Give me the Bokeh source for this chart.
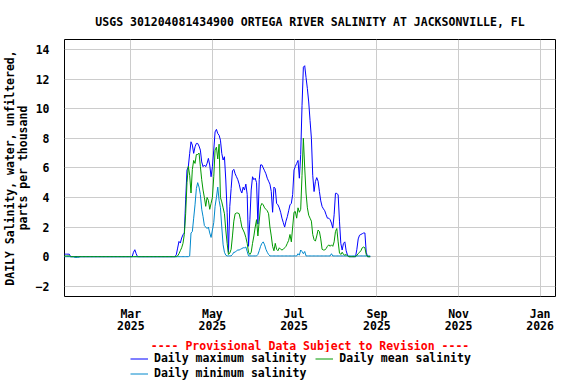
from datetime import datetime, timedelta
from bokeh.plotting import figure
from bokeh.layouts import column
from bokeh.models import Range1d, FixedTicker, Legend, LegendItem, Title
from bokeh.embed import file_html
from bokeh.resources import INLINE

# ---------------- data ----------------
start_date = datetime(2025, 1, 10)

daily_max = [
    0.17, 0.17, 0.17, 0.17, 0.17, 0, 0, 0, 0, 0,
    0, 0, 0, 0, 0, 0, 0, 0, 0, 0,
    0, 0, 0, 0, 0, 0, 0, 0, 0, 0,
    0, 0, 0, 0, 0, 0, 0, 0, 0, 0,
    0, 0, 0, 0, 0, 0, 0, 0, 0, 0,
    0, 0, 0.3, 0.47, 0.2, 0, 0, 0, 0, 0,
    0, 0, 0, 0, 0, 0, 0, 0, 0, 0,
    0, 0, 0, 0, 0, 0, 0, 0, 0, 0,
    0, 0, 0, 0, 0.13, 0.58, 1.03, 0.92, 1.26, 1.48,
    1.6, 3.84, 5.85, 6.08, 6.98, 7.76, 7.54, 6.98, 7.42, 7.65,
    7.65, 7.47, 7.2, 6.4, 6.08, 6.19, 6.08, 6.3, 6.64, 6.19,
    5.4, 6.08, 7.2, 8.43, 8.6, 8.32, 8.2, 7.87, 6.98, 6.53,
    6.75, 5.18, 3.0, 0.3, 3.4, 4.6, 5.8, 5.9, 5.6, 5.4,
    5.2, 4.9, 4.5, 4.3, 4.7, 4.5, 4.9, 4.2, 0.7, 2.5,
    4.5, 5.4, 5.2, 5.3, 5.0, 2.2, 5.2, 6.2, 6.2, 6.0,
    5.8, 5.6, 5.3, 5.1, 4.9, 4.4, 3.0, 4.7, 4.6, 3.6,
    3.5, 3.3, 3.0, 2.6, 2.3, 2.0, 2.4, 2.7, 3.1, 3.5,
    3.6, 4.2, 5.85, 6.1, 6.3, 6.5, 5.3, 6.9, 10.2, 12.8,
    12.9, 12.1, 11.35, 10.45, 9.2, 8.0, 5.5, 4.4, 5.07, 5.34,
    5.1, 4.4, 3.77, 3.39, 3.23, 3.1, 2.83, 2.6, 2.6, 2.5,
    2.27, 1.93, 2.83, 4.28, 4.28, 4.17, 2.4, 0.9, 0.45, 0.9,
    1.0, 0.4, 0.1, 0, 0, 0, 0, 0, 0, 0.5,
    1.2, 1.45, 1.5, 1.55, 1.6, 1.6, 0.3, 0, 0, 0,
]

daily_mean = [
    0.05, 0.05, 0.05, 0.05, 0.05, 0, 0, 0, 0, 0,
    0, 0, 0, 0, 0, 0, 0, 0, 0, 0,
    0, 0, 0, 0, 0, 0, 0, 0, 0, 0,
    0, 0, 0, 0, 0, 0, 0, 0, 0, 0,
    0, 0, 0, 0, 0, 0, 0, 0, 0, 0,
    0, 0, 0, 0, 0, 0, 0, 0, 0, 0,
    0, 0, 0, 0, 0, 0, 0, 0, 0, 0,
    0, 0, 0, 0, 0, 0, 0, 0, 0, 0,
    0, 0, 0, 0, 0, 0.05, 0.2, 0.4, 0.6, 0.9,
    1.5, 2.9, 5.0, 6.1, 5.5, 4.3, 5.9, 6.5, 6.3, 6.9,
    6.9, 7.0, 6.1, 5.2, 4.5, 4.0, 3.4, 4.0, 3.8, 3.2,
    3.6, 4.0, 5.4, 7.2, 7.4, 6.6, 7.6, 4.0, 3.7, 3.3,
    2.9, 1.8, 0.9, 0.15, 0.25, 0.5, 1.4, 2.4, 2.9, 2.95,
    2.95, 2.9, 2.5, 2.0, 1.8, 1.6, 1.3, 0.9, 0.3, 0.15,
    0.3, 0.9, 1.4, 2.0, 2.5, 1.4, 2.4, 3.4, 3.6, 3.5,
    3.3, 3.2, 3.1, 2.9, 2.0, 1.4, 0.7, 0.4, 0.9, 0.5,
    0.4, 0.6, 0.5, 0.45, 0.5, 0.6, 0.7, 0.9, 1.1, 1.5,
    1.0, 2.0, 3.0, 3.05, 2.6, 3.3, 3.0, 3.2, 5.5, 8.0,
    6.0, 4.3, 3.3, 2.8, 2.6, 2.4, 1.5, 1.15, 1.05, 1.4,
    1.8, 1.7, 1.2, 0.5, 0.45, 0.45, 0.55, 0.7, 0.8, 0.7,
    0.8, 0.7, 1.0, 1.7, 1.9, 1.0, 0.25, 0.15, 0.3, 0.15,
    0.1, 0.15, 0.05, 0, 0, 0, 0, 0, 0, 0.1,
    0.2, 0.3, 0.4, 0.6, 0.65, 0.6, 0.15, 0, 0, 0,
]

daily_min = [
    0, 0, 0, 0, 0, 0, 0, 0, -0.05, -0.05,
    -0.05, -0.05, 0, 0, 0, 0, 0, 0, 0, 0,
    0, 0, 0, 0, 0, 0, 0, 0, 0, 0,
    0, 0, 0, 0, 0, 0, 0, 0, 0, 0,
    0, 0, 0, 0, 0, 0, 0, 0, 0, 0,
    0, 0, 0, 0, 0, 0, 0, 0, 0, 0,
    0, 0, 0, 0, 0, 0, 0, 0, 0, 0,
    0, 0, 0, 0, 0, 0, 0, 0, 0, 0,
    0, 0, 0, 0, 0, 0, 0, 0, 0, 0,
    0, 0, 0, 0, 0.05, 1.6, 1.7, 2.6, 3.5, 4.6,
    5.0, 4.7, 4.2, 3.2, 2.7, 2.1, 2.0, 1.9, 2.0, 1.6,
    1.3, 1.8, 2.3, 3.4, 4.0, 4.7, 3.8, 3.3, 2.0, 0.8,
    0.3, 0.1, 0.05, 0.05, 0.05, 0.05, 0.15, 0.3, 0.3, 0.4,
    0.45, 0.45, 0.5, 0.55, 0.6, 0.6, 0.65, 0.35, 0.05, 0.05,
    0.05, 0.05, 0.05, 0.05, 0.05, 0.15, 0.4, 0.7, 0.9, 1.0,
    0.8, 0.5, 0.3, 0.15, 0.05, 0.05, 0.05, 0.05, 0.05, 0.05,
    0.05, 0.05, 0.05, 0.05, 0.05, 0.05, 0.05, 0.05, 0.05, 0.05,
    0.05, 0.05, 0.05, 0.05, 0.05, 0.2, 0.1, 0.45, 0.35, 0.2,
    0.35, 0.05, 0.05, 0.05, 0.05, 0.05, 0.05, 0.05, 0.05, 0.05,
    0.05, 0.05, 0.05, 0.05, 0.05, 0.05, 0.05, 0.05, 0.05, 0.05,
    0.2, 0.05, 0.05, 0.05, 0.05, 0.05, 0.05, 0.05, 0.05, 0.05,
    0.05, 0.05, 0.05, 0.05, 0.05, 0.05, 0.05, 0.05, 0.05, 0.05,
    0.05, 0.05, 0.05, 0.05, 0.05, 0.05, 0.05, 0.05, 0.05, 0.05,
]

tick_dates = [datetime(2025, 3, 1), datetime(2025, 5, 1), datetime(2025, 7, 1),
              datetime(2025, 9, 1), datetime(2025, 11, 1), datetime(2026, 1, 1)]
tick_labels = ["Mar\n2025", "May\n2025", "Jul\n2025", "Sep\n2025", "Nov\n2025", "Jan\n2026"]
y_ticks = [-2, 0, 2, 4, 6, 8, 10, 12, 14]

title_text = "USGS 301204081434900 ORTEGA RIVER SALINITY AT JACKSONVILLE, FL"
provisional_text = "---- Provisional Data Subject to Revision ----"
y_label = "DAILY Salinity, water, unfiltered,\nparts per thousand"
series_labels = ["Daily maximum salinity", "Daily mean salinity", "Daily minimum salinity"]
series_colors = ["#0000ff", "#009900", "#0088cc"]

# ---------------- plot ----------------
FONT = "DejaVu Sans Mono"
FS = "11.5px"

dates = [start_date + timedelta(days=i) for i in range(len(daily_max))]
epoch = datetime(1970, 1, 1)
tick_ms = [int((d - epoch).total_seconds() * 1000) for d in tick_dates]

x_rng = Range1d(datetime(2025, 1, 10, 10), datetime(2026, 1, 12, 12))

p = figure(width=576, height=352, x_axis_type="datetime",
           x_range=x_rng, y_range=Range1d(-2.69, 14.67),
           output_backend="svg", toolbar_location=None)

p.min_border_left = 64
p.min_border_right = 21
p.min_border_top = 39
p.min_border_bottom = 55
p.background_fill_color = "white"
p.border_fill_color = "white"
p.outline_line_color = "black"
p.outline_line_width = 1
p.outline_line_alpha = 1

p.title.text = title_text
p.title.align = "center"
p.title.text_font = FONT
p.title.text_font_size = FS
p.title.text_font_style = "bold"
p.title.text_color = "black"
p.title.standoff = 22

r_max = p.line(dates, daily_max, line_color=series_colors[0], line_width=1)
r_min = p.line(dates, daily_min, line_color=series_colors[2], line_width=1)
r_mean = p.line(dates, daily_mean, line_color=series_colors[1], line_width=1)

for ax in (p.xaxis[0], p.yaxis[0]):
    ax.axis_line_color = None
    ax.major_tick_line_color = None
    ax.minor_tick_line_color = None
    ax.major_label_text_font = FONT
    ax.major_label_text_font_size = FS
    ax.major_label_text_font_style = "bold"
    ax.major_label_text_color = "black"

p.xaxis.ticker = FixedTicker(ticks=tick_ms)
p.xaxis.major_label_overrides = dict(zip(tick_ms, tick_labels))
p.xaxis.major_label_standoff = 4
p.xaxis.major_label_text_line_height = 0.9

p.yaxis.ticker = FixedTicker(ticks=y_ticks)
p.yaxis.major_label_standoff = 9
p.yaxis.axis_label = y_label
p.yaxis.axis_label_text_font = FONT
p.yaxis.axis_label_text_font_size = FS
p.yaxis.axis_label_text_font_style = "bold"
p.yaxis.axis_label_text_color = "black"
p.yaxis.axis_label_text_line_height = 0.9
p.yaxis.axis_label_standoff = 3

p.xgrid.ticker = FixedTicker(ticks=tick_ms)
p.ygrid.ticker = FixedTicker(ticks=y_ticks)
for g in (p.xgrid[0], p.ygrid[0]):
    g.grid_line_color = "#cccccc"
    g.grid_line_width = 1

p.add_layout(Title(text=provisional_text, align="center", text_color="red",
                   text_font=FONT, text_font_size=FS, text_font_style="bold",
                   standoff=0), "below")

# ---------------- legend strip ----------------
# same series drawn again into a strip whose y-range shows none of them,
# so the legend can sit below the plot without being clipped
lg = figure(width=576, height=32, x_range=x_rng, y_range=Range1d(-100, -99),
            x_axis_location=None, y_axis_location=None,
            output_backend="svg", toolbar_location=None,
            min_border=0, min_border_left=0, min_border_right=0,
            min_border_top=0, min_border_bottom=0)
lg.outline_line_color = None
lg.grid.visible = False
lg.background_fill_color = "white"
lg.border_fill_color = "white"

k_max = lg.line(dates, daily_max, line_color=series_colors[0], line_width=1)
k_mean = lg.line(dates, daily_mean, line_color=series_colors[1], line_width=1)
k_min = lg.line(dates, daily_min, line_color=series_colors[2], line_width=1)

legend_style = dict(orientation="horizontal",
                    label_text_font=FONT, label_text_font_size=FS,
                    label_text_font_style="bold", label_text_color="black",
                    label_height=13, glyph_height=13, glyph_width=18,
                    label_standoff=6, spacing=9, padding=1, margin=0,
                    border_line_color=None, background_fill_alpha=0)
legend1 = Legend(items=[LegendItem(label=series_labels[0], renderers=[k_max]),
                        LegendItem(label=series_labels[1], renderers=[k_mean])],
                 location=(66, 19), **legend_style)
legend2 = Legend(items=[LegendItem(label=series_labels[2], renderers=[k_min])],
                 location=(66, 4), **legend_style)
lg.add_layout(legend1, "center")
lg.add_layout(legend2, "center")

layout = column(p, lg, spacing=0)
open("out.html", "w").write(file_html(layout, INLINE))
